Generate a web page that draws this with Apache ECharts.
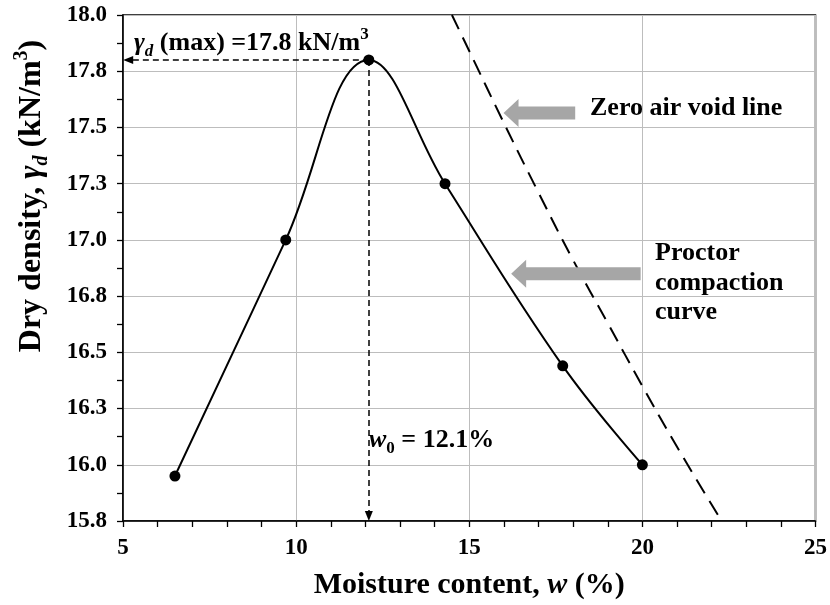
<!DOCTYPE html>
<html>
<head>
<meta charset="utf-8">
<script src="https://cdn.jsdelivr.net/npm/echarts@6/dist/echarts.min.js"></script>
<style>
  html, body { margin: 0; padding: 0; background: #fff; }
  #main { width: 830px; height: 605px; }
</style>
</head>
<body>
<div id="main"></div>
<script>
// Proctor compaction test results
const moisture = [6.5, 9.7, 12.1, 14.3, 17.7, 20.0];          // w (%)
const dryDensity = [15.95, 17.0, 17.8, 17.25, 16.44, 16.0];    // γd (kN/m³)

// Zero air void line
const zavMoisture = [14.5, 15, 16, 17, 18, 19, 20, 21, 22.25];
const zavDensity = [18.0, 17.84, 17.52, 17.21, 16.91, 16.63, 16.35, 16.08, 15.76];

// Optimum point
const optimumW = 12.1;
const maxDensity = 17.8;

// Axis scales
const xMin = 5, xMax = 25, xStep = 5;
const yMin = 15.75, yMax = 18.0, yStep = 0.25;

const serif = "'Liberation Serif', 'Times New Roman', serif";
const chart = echarts.init(document.getElementById('main'));

const axisCommon = {
  type: 'value',
  axisLine: { show: true, onZero: false, lineStyle: { color: '#000', width: 1.5 } },
  axisTick: { show: true, length: 6, lineStyle: { color: '#000', width: 1.3 } },
  minorTick: { show: true, length: 6, lineStyle: { color: '#000', width: 1.3 } },
  splitLine: { show: true, lineStyle: { color: '#bdbdbd', width: 1 } },
  axisLabel: { color: '#000', fontFamily: serif, fontWeight: 'bold', fontSize: 23 }
};

function titleRich(size) {
  const sub = Math.round(size * 0.62);
  return {
    t: { fontFamily: serif, fontWeight: 'bold', fontSize: size, color: '#000' },
    i: { fontFamily: serif, fontWeight: 'bold', fontStyle: 'italic', fontSize: size, color: '#000' },
    sub: { fontFamily: serif, fontWeight: 'bold', fontStyle: 'italic', fontSize: sub, color: '#000', verticalAlign: 'bottom', lineHeight: size * 1.25 },
    sup: { fontFamily: serif, fontWeight: 'bold', fontSize: sub, color: '#000', verticalAlign: 'top', lineHeight: size * 1.25 }
  };
}

chart.setOption({
  backgroundColor: '#fff',
  animation: false,
  grid: { left: 123, right: 11, top: 15, bottom: 83, show: true, borderColor: '#000', borderWidth: 1.5 },
  xAxis: Object.assign({}, axisCommon, {
    min: xMin, max: xMax, interval: xStep,
    minorTick: Object.assign({}, axisCommon.minorTick, { splitNumber: 5 }),
    axisLabel: Object.assign({}, axisCommon.axisLabel, { margin: 16 }),
    name: '{t|Moisture content, }{i|w}{t| (%)}',
    nameLocation: 'middle',
    nameGap: 49,
    nameTextStyle: { rich: titleRich(30) }
  }),
  yAxis: Object.assign({}, axisCommon, {
    min: yMin, max: yMax, interval: yStep,
    minorTick: Object.assign({}, axisCommon.minorTick, { splitNumber: 2 }),
    axisLabel: Object.assign({}, axisCommon.axisLabel, {
      margin: 16,
      formatter: v => v.toFixed(1)
    })
  }),
  series: [
    {
      name: 'Zero air void line',
      type: 'line',
      data: zavMoisture.map((w, i) => [w, zavDensity[i]]),
      smooth: true,
      symbol: 'none',
      lineStyle: { color: '#000', width: 2, type: [16, 9] },
      z: 2
    },
    {
      name: 'Proctor compaction curve',
      type: 'line',
      data: moisture.map((w, i) => [w, dryDensity[i]]),
      smooth: 0.4,
      symbol: 'circle',
      symbolSize: 11,
      itemStyle: { color: '#000' },
      lineStyle: { color: '#000', width: 2 },
      z: 3,
      markLine: {
        silent: true,
        symbol: ['none', 'triangle'],
        symbolSize: [8, 10],
        label: { show: false },
        lineStyle: { color: '#000', width: 1.5, type: [6, 4] },
        data: [
          [{ coord: [optimumW, maxDensity] }, { coord: [xMin + 0.15, maxDensity] }],
          [{ coord: [optimumW, maxDensity] }, { coord: [optimumW, yMin + 0.022] }]
        ]
      }
    }
  ]
});

// Annotations: grey pointer arrows (anchored in data space) and labels
function blockArrow(tip, tailX) {
  const [tx, ty] = chart.convertToPixel({ gridIndex: 0 }, tip);
  const ax = chart.convertToPixel({ gridIndex: 0 }, [tailX, tip[1]])[0];
  const hl = 15, hh = 14, sh = 6.5;
  return {
    type: 'polygon',
    z: 10,
    shape: { points: [[tx, ty], [tx + hl, ty - hh], [tx + hl, ty - sh], [ax, ty - sh], [ax, ty + sh], [tx + hl, ty + sh], [tx + hl, ty + hh]] },
    style: { fill: '#a6a6a6' }
  };
}

const labelFont = { fontFamily: serif, fontWeight: 'bold', fontSize: 26, color: '#000' };
const rich = {
  b: Object.assign({}, labelFont),
  i: Object.assign({}, labelFont, { fontStyle: 'italic' }),
  sub: Object.assign({}, labelFont, { fontSize: 17, verticalAlign: 'bottom', lineHeight: 34 }),
  subi: Object.assign({}, labelFont, { fontSize: 17, fontStyle: 'italic', verticalAlign: 'bottom', lineHeight: 34 }),
  sup: Object.assign({}, labelFont, { fontSize: 17, verticalAlign: 'top', lineHeight: 34 })
};

chart.setOption({
  graphic: [
    blockArrow([15.99, 17.564], 18.06),
    blockArrow([16.21, 16.849], 19.95),
    {
      type: 'text', x: 134, y: 43, z: 11,
      style: {
        text: '{i|γ}{subi|d}{b| (max) =17.8 kN/m}{sup|3}',
        rich: rich, verticalAlign: 'middle', align: 'left'
      }
    },
    {
      type: 'text', x: 590, y: 108, z: 11,
      style: { text: 'Zero air void line', font: 'bold 26px ' + serif, fill: '#000', verticalAlign: 'middle', align: 'left' }
    },
    {
      type: 'text', x: 655, y: 239, z: 11,
      style: { text: 'Proctor\ncompaction\ncurve', font: 'bold 26px ' + serif, fill: '#000', lineHeight: 29.5, verticalAlign: 'top', align: 'left' }
    },
    {
      type: 'text', x: 369, y: 440, z: 11,
      style: {
        text: '{i|w}{sub|0}{b| = 12.1%}',
        rich: rich, verticalAlign: 'middle', align: 'left'
      }
    },
    {
      type: 'text', x: 32, y: 196, rotation: Math.PI / 2, z: 11,
      style: {
        text: '{t|Dry density, }{i|γ}{sub|d}{t| (kN/m}{sup|3}{t|)}',
        verticalAlign: 'middle', align: 'center',
        rich: titleRich(32)
      }
    }
  ]
});
</script>
</body>
</html>
